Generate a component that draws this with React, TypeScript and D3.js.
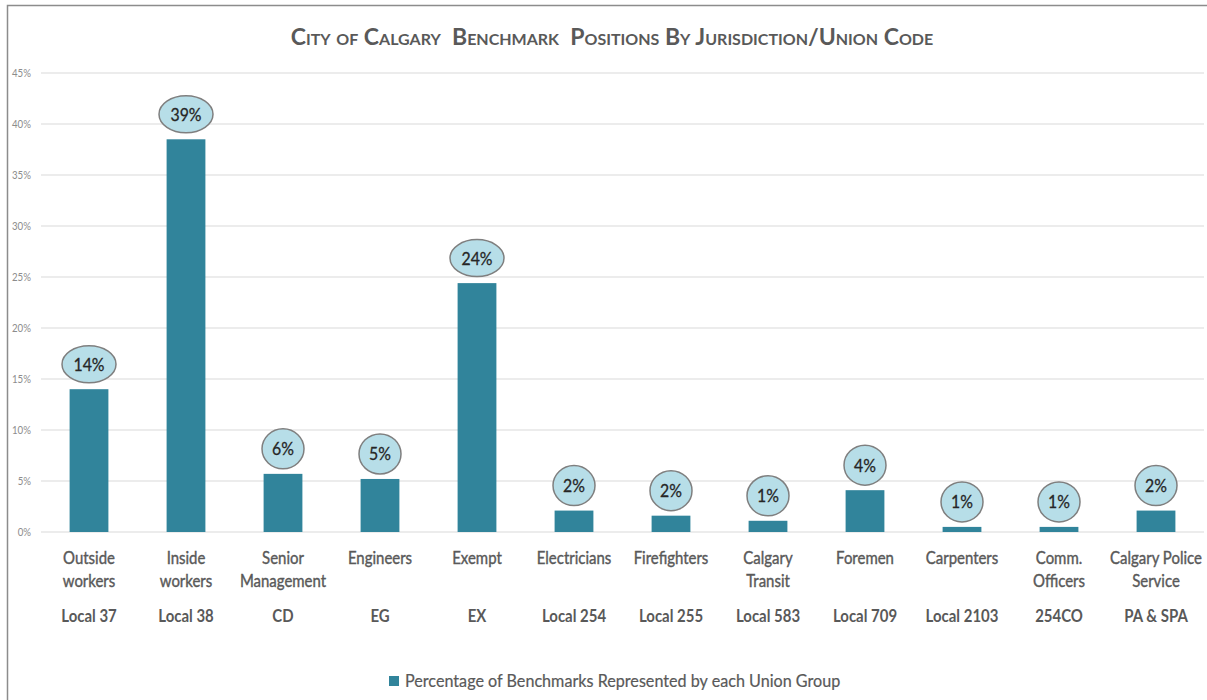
import React from "react";
import * as d3 from "d3";

// categories (two-line names), union codes, values in %
const categoryLines = [
  ["Outside", "workers"],
  ["Inside", "workers"],
  ["Senior", "Management"],
  ["Engineers"],
  ["Exempt"],
  ["Electricians"],
  ["Firefighters"],
  ["Calgary", "Transit"],
  ["Foremen"],
  ["Carpenters"],
  ["Comm.", "Officers"],
  ["Calgary Police", "Service"],
];
const codes = ["Local 37", "Local 38", "CD", "EG", "EX", "Local 254", "Local 255", "Local 583", "Local 709", "Local 2103", "254CO", "PA & SPA"];
const values = [14.0, 38.5, 5.7, 5.2, 24.4, 2.1, 1.6, 1.1, 4.1, 0.5, 0.5, 2.1];
const valueLabels = ["14%", "39%", "6%", "5%", "24%", "2%", "2%", "1%", "4%", "1%", "1%", "2%"];
const yTicks = [0, 5, 10, 15, 20, 25, 30, 35, 40, 45];
const legendLabel = "Percentage of Benchmarks Represented by each Union Group";
const title = "City of Calgary  Benchmark  Positions By Jurisdiction/Union Code";

const W = 1207;
const H = 700;
const FONT = "Lato, 'Open Sans', sans-serif";
const SX = 0.88; // horizontal squeeze of the text, like the source image
const GREY = "#595959";
const BAR = "#31849b";

const App = () => {
  const keys = categoryLines.map((d) => d.join(" "));
  const x = d3.scaleBand().domain(keys).range([40.5, 1204.5]).paddingInner(0.6).paddingOuter(0.3);
  const y = d3.scaleLinear().domain([0, 45]).range([532, 73]);

  const squeezed = (px, py, props, text, sx = SX) => (
    <text transform={`translate(${px},${py}) scale(${sx},1)`} {...props}>
      {text}
    </text>
  );

  return (
    <svg width={W} height={H} style={{ position: "absolute", left: 0, top: 0, background: "#fff" }} fontFamily={FONT}>
      <rect x={0} y={0} width={W} height={H} fill="#fff" />
      <path d={`M7.5,${H} V5.5 H${W}`} fill="none" stroke="#8c8c8c" strokeWidth={1.5} />

      {squeezed(
        612,
        45,
        { textAnchor: "middle", fontSize: 23, fontWeight: 700, fill: GREY, style: { fontVariant: "small-caps", whiteSpace: "pre" } },
        title,
        1
      )}

      {/* grid + y ticks */}
      {yTicks.map((t) => (
        <g key={t}>
          <line x1={41} x2={1204} y1={y(t)} y2={y(t)} stroke="#d9d9d9" strokeWidth={1} />
          {squeezed(31, y(t) + 4, { textAnchor: "end", fontSize: 11, fill: "#8c8c8c" }, `${t}%`)}
        </g>
      ))}

      {/* bars */}
      {keys.map((k, i) => (
        <rect key={k} x={x(k)} y={y(values[i])} width={x.bandwidth()} height={y(0) - y(values[i])} fill={BAR} />
      ))}

      {/* value callouts */}
      {keys.map((k, i) => {
        const cx = x(k) + x.bandwidth() / 2;
        const cy = y(values[i]) - 25;
        const wide = valueLabels[i].length > 2;
        return (
          <g key={k + "lab"}>
            <ellipse cx={cx} cy={cy} rx={wide ? 27 : 21} ry={wide ? 18.5 : 20} fill="#b7dee8" stroke="#7f7f7f" strokeWidth={1.5} />
            {squeezed(cx, cy + 6.5, { textAnchor: "middle", fontSize: 18, fill: "#262626", stroke: "#262626", strokeWidth: 0.3 }, valueLabels[i])}
          </g>
        );
      })}

      {/* category labels */}
      {keys.map((k, i) => {
        const cx = x(k) + x.bandwidth() / 2;
        return (
          <g key={k + "cat"}>
            {categoryLines[i].map((ln, j) => (
              <React.Fragment key={j}>
                {squeezed(cx, 564 + j * 22.5, { textAnchor: "middle", fontSize: 17, fill: GREY, stroke: GREY, strokeWidth: 0.4 }, ln)}
              </React.Fragment>
            ))}
            {squeezed(cx, 622, { textAnchor: "middle", fontSize: 17, fontWeight: 700, fill: GREY }, codes[i])}
          </g>
        );
      })}

      {/* legend */}
      <rect x={389} y={676} width={10} height={10} fill={BAR} />
      {squeezed(405, 687, { fontSize: 17, fill: GREY, stroke: GREY, strokeWidth: 0.2 }, legendLabel, 0.95)}
    </svg>
  );
};

export default App;
